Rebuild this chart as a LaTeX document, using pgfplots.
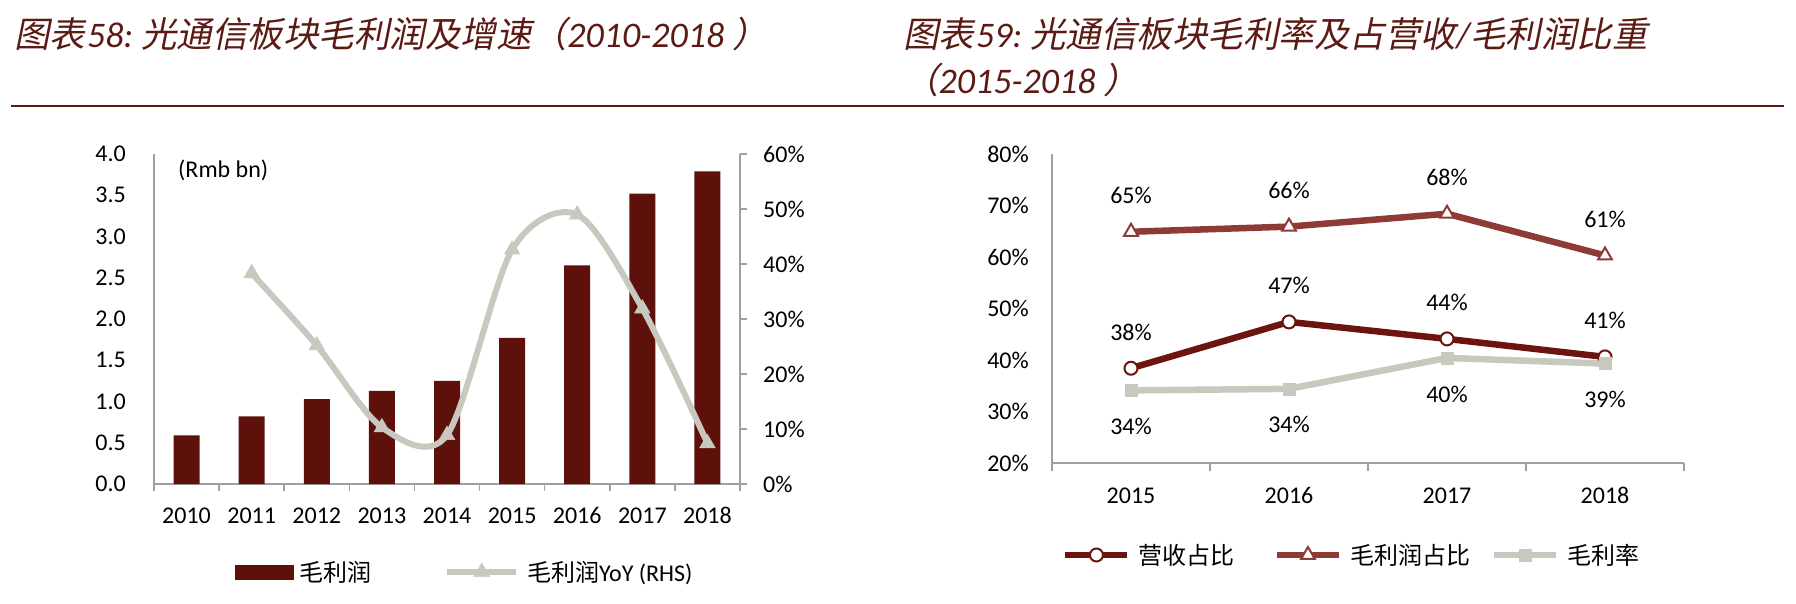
\documentclass[border=0pt]{standalone}
\usepackage{pgfplots}
\pgfplotsset{compat=1.18}
\usepackage{fontspec}
\setmainfont{Carlito}
\newfontfamily\cjk{Noto Sans CJK SC}
\newfontfamily\cjksl{Noto Sans CJK SC}[FakeSlant=0.2]
\definecolor{barred}{RGB}{94,16,11}
\definecolor{lineone}{RGB}{108,20,16}
\definecolor{linetwo}{RGB}{142,59,55}
\definecolor{lgray}{RGB}{200,200,190}
\definecolor{axgray}{RGB}{160,160,160}
\definecolor{titlered}{RGB}{92,26,20}
\newcommand\tf{\fontsize{24}{28}\selectfont}
\newcommand\ttlf{\fontsize{36}{38}\selectfont}
\newcommand\ttlc{\fontsize{35.5}{38}\selectfont}
\pgfplotsset{
  longlinelegend/.style={legend image code/.code={\draw[mark repeat=2, mark phase=2, ##1] plot coordinates {(0pt,0pt) (34.5pt,0pt) (69pt,0pt)};}},
  linelegend/.style={legend image code/.code={\draw[mark repeat=2, mark phase=2, ##1] plot coordinates {(0pt,0pt) (31pt,0pt) (62pt,0pt)};}},
  barlegend/.style={legend image code/.code={\fill[barred] (0pt,-7.5pt) rectangle (59pt,7.5pt);}},
}
\begin{document}
\begin{tikzpicture}
\useasboundingbox (0pt,0pt) rectangle (1796pt,-604pt);
% titles
\node[anchor=base west, inner sep=0pt, text=titlered] at (14pt,-48pt)
  {{\ttlc\cjksl 图表}\hspace{2pt}{\ttlf\itshape 58:\ }{\ttlc\cjksl 光通信板块毛利润及增速（}{\ttlf\itshape 2010-2018 }{\ttlc\cjksl ）}};
\node[anchor=base west, inner sep=0pt, text=titlered] at (903pt,-48pt)
  {{\ttlc\cjksl 图表}\hspace{2pt}{\ttlf\itshape 59:\ }{\ttlc\cjksl 光通信板块毛利率及占营收}{\ttlf\itshape /}{\ttlc\cjksl 毛利润比重}};
\node[anchor=base west, inner sep=0pt, text=titlered] at (903pt,-94pt)
  {{\ttlc\cjksl （}{\ttlf\itshape 2015-2018 }{\ttlc\cjksl ）}};
\draw[titlered, line width=2pt] (11pt,-106pt) -- (1784pt,-106pt);
\node[anchor=west, inner sep=0pt] at (178pt,-170pt) {\tf (Rmb bn)};

% ---------------- left chart: bars
\begin{axis}[
  at={(154pt,-484pt)}, anchor=south west, scale only axis,
  width=586pt, height=330pt,
  xmin=-0.5, xmax=8.5, ymin=0, ymax=4,
  axis x line*=bottom, axis y line*=left,
  axis line style={-, draw=axgray, line width=1.5pt},
  xtick={0,...,8}, xticklabels={2010,2011,2012,2013,2014,2015,2016,2017,2018},
  minor xtick={-0.5,0.5,...,8.5},
  ytick={0,0.5,...,4}, yticklabels={0.0,0.5,1.0,1.5,2.0,2.5,3.0,3.5,4.0},
  major tick length=0pt, minor tick length=7pt, tick align=outside,
  tick style={draw=axgray, line width=1.5pt},
  ticklabel style={font=\tf, inner sep=0pt},
  xticklabel style={anchor=base, yshift=-39pt},
  yticklabel style={anchor=east, xshift=-28pt},
  legend style={at={(0.1382,-0.2667)}, anchor=west, draw=none, fill=none,
    inner sep=0pt, font=\tf, nodes={inner sep=0pt}},
]
\addplot[ybar, bar width=26pt, fill=barred, draw=none, barlegend]
  coordinates {(0,0.59) (1,0.82) (2,1.03) (3,1.13) (4,1.25) (5,1.77) (6,2.65) (7,3.52) (8,3.79)};
\addlegendentry{\hspace*{5pt}{\cjk 毛利润}}
\end{axis}

% ---------------- left chart: YoY line
\begin{axis}[
  at={(154pt,-484pt)}, anchor=south west, scale only axis,
  width=586pt, height=330pt,
  xmin=-0.5, xmax=8.5, ymin=0, ymax=60,
  axis x line=none, axis y line*=right,
  axis line style={-, draw=axgray, line width=1.5pt},
  ytick={0,10,20,30,40,50,60}, yticklabels={0\%,10\%,20\%,30\%,40\%,50\%,60\%},
  major tick length=7pt, tick align=outside,
  tick style={draw=axgray, line width=1.5pt},
  yticklabel style={font=\tf, inner sep=0pt, anchor=west, xshift=16pt},
  legend style={at={(0.4949,-0.2667)}, anchor=west, draw=none, fill=none,
    inner sep=0pt, font=\tf, nodes={inner sep=0pt}},
  clip=false,
]
\addplot[smooth, line width=6pt, lgray, mark=triangle*, mark size=9pt,
  mark options={solid, fill=lgray, draw=lgray, line width=0.5pt}, longlinelegend]
  coordinates {(1,38.3) (2,25.2) (3,10.3) (4,8.9) (5,42.6) (6,49.0) (7,31.9) (8,7.4)};
\addlegendentry{\hspace*{8pt}{\cjk 毛利润}YoY (RHS)}
\end{axis}

% ---------------- right chart
\begin{axis}[
  at={(1052pt,-463pt)}, anchor=south west, scale only axis,
  width=632pt, height=309pt,
  xmin=-0.5, xmax=3.5, ymin=20, ymax=80,
  axis x line*=bottom, axis y line*=left,
  axis line style={-, draw=axgray, line width=1.5pt},
  xtick={0,1,2,3}, xticklabels={2015,2016,2017,2018},
  minor xtick={-0.5,0.5,...,3.5},
  ytick={20,30,40,50,60,70,80}, yticklabels={20\%,30\%,40\%,50\%,60\%,70\%,80\%},
  major tick length=0pt, minor tick length=8pt, tick align=outside,
  tick style={draw=axgray, line width=1.5pt},
  ticklabel style={font=\tf, inner sep=0pt},
  xticklabel style={anchor=base, yshift=-40pt},
  yticklabel style={anchor=east, xshift=-23pt},
  legend columns=3,
  legend style={at={(0.0158,-0.2977)}, anchor=west, draw=none, fill=none,
    inner sep=0pt, font=\tf, nodes={inner sep=0pt}, /tikz/column sep=0pt},
  clip=false,
  point meta=explicit symbolic,
]
\addplot[lineone, line width=6.5pt, mark=*, mark size=6.5pt,
  mark options={solid, fill=white, draw=lineone, line width=2pt},
  nodes near coords,
  every node near coord/.style={anchor=center, yshift=36pt, font=\tf, text=black},
  linelegend]
  coordinates {(0,38.4) [38\%] (1,47.4) [47\%] (2,44.1) [44\%] (3,40.6) [41\%]};
\addlegendentry{\hspace*{8pt}{\cjk 营收占比}\hspace*{39pt}}
\addplot[linetwo, line width=6.5pt, mark=triangle*, mark size=8pt,
  mark options={solid, fill=white, draw=linetwo, line width=2pt},
  nodes near coords,
  every node near coord/.style={anchor=center, yshift=36pt, font=\tf, text=black},
  linelegend]
  coordinates {(0,64.9) [65\%] (1,65.9) [66\%] (2,68.4) [68\%] (3,60.3) [61\%]};
\addlegendentry{\hspace*{8pt}{\cjk 毛利润占比}\hspace*{21pt}}
\addplot[lgray, line width=6.5pt, mark=square*, mark size=6pt,
  mark options={solid, fill=lgray, draw=lgray, line width=0.5pt},
  nodes near coords,
  every node near coord/.style={anchor=center, yshift=-36pt, font=\tf, text=black},
  linelegend]
  coordinates {(0,34.1) [34\%] (1,34.4) [34\%] (2,40.4) [40\%] (3,39.3) [39\%]};
\addlegendentry{\hspace*{8pt}{\cjk 毛利率}}
\end{axis}
\end{tikzpicture}
\end{document}
